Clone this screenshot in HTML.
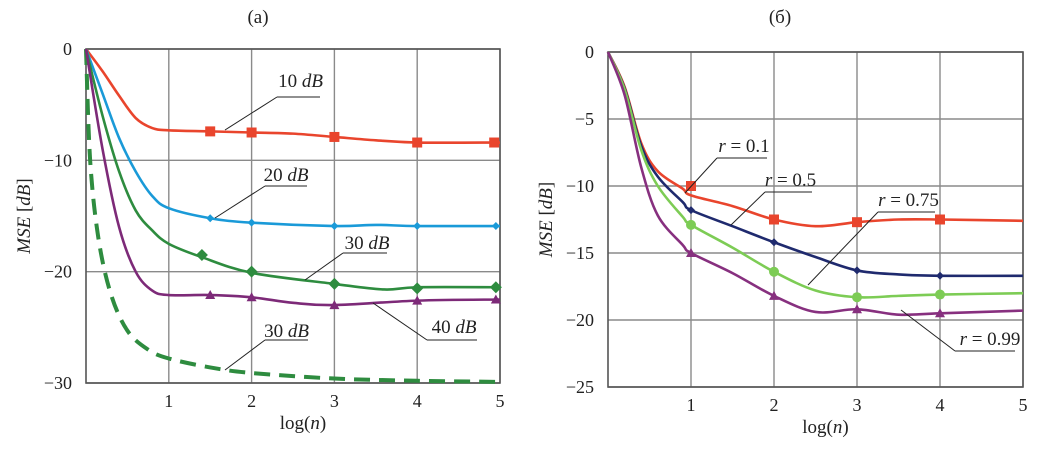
<!DOCTYPE html>
<html><head><meta charset="utf-8"><style>
body{margin:0;background:#fff}
svg text{font-family:"Liberation Serif","DejaVu Serif",serif;fill:#222}
</style></head><body>
<svg id="c" width="1050" height="444" xmlns="http://www.w3.org/2000/svg"></svg>
<script>
// ---- data ----
const xTicks=[1,2,3,4,5];
const yTicksA=[0,-10,-20,-30];
const yTicksB=[0,-5,-10,-15,-20,-25];
const xA10=[0,0.2,0.4,0.6,0.8,1,1.5,2,2.5,3,3.5,4,5];
const yA10=[0,-2,-4.2,-6.2,-7.1,-7.3,-7.4,-7.5,-7.6,-7.9,-8.2,-8.4,-8.4];
const xA20=[0,0.2,0.4,0.6,0.8,1,1.5,2,3,3.5,4,5];
const yA20=[0,-4,-8,-11,-13.2,-14.3,-15.2,-15.6,-15.9,-15.8,-15.9,-15.9];
const xA30=[0,0.2,0.4,0.6,0.8,1,1.4,2,3,3.6,4,5];
const yA30=[0,-6,-11,-14.5,-16.3,-17.5,-18.7,-20.1,-21.1,-21.6,-21.4,-21.4];
const xA40=[0,0.2,0.4,0.6,0.8,1,1.5,2,2.5,3,4,5];
const yA40=[0,-9,-16,-20,-21.7,-22.1,-22.1,-22.3,-22.8,-23.0,-22.6,-22.5];
const xAd=[0,0.05,0.15,0.3,0.5,0.75,1,1.5,2,3,4,5];
const yAd=[0,-10,-17,-22,-25.3,-27,-27.8,-28.6,-29.1,-29.6,-29.8,-29.9];
const mA10x=[1.5,2,3,4,4.93], mA10y=[-7.4,-7.5,-7.9,-8.4,-8.4];
const mA20x=[1.5,2,3,4,4.95], mA20y=[-15.2,-15.6,-15.9,-15.9,-15.9];
const mA30x=[1.4,2,3,4,4.95], mA30y=[-18.5,-20.0,-21.1,-21.5,-21.4];
const mA40x=[1.5,2,3,4,4.95], mA40y=[-22.1,-22.3,-23.0,-22.6,-22.5];
const xB=[0,0.2,0.4,0.6,0.9,1,1.5,2,2.5,3,3.5,4,5];
const yB1=[0,-2.6,-6.8,-8.9,-10.2,-10.7,-11.5,-12.5,-13,-12.7,-12.5,-12.5,-12.6];
const yB5=[0,-2.7,-7.0,-9.3,-11.2,-11.8,-13,-14.2,-15.3,-16.3,-16.6,-16.7,-16.7];
const yB75=[0,-2.8,-7.3,-10,-12.3,-12.9,-14.6,-16.4,-17.8,-18.3,-18.2,-18.1,-18.0];
const yB99=[0,-3.2,-8.6,-12.2,-14.4,-15,-16.5,-18.2,-19.4,-19.2,-19.6,-19.5,-19.3];
const mBx=[1,2,3,4];
const mB1y=[-10,-12.5,-12.7,-12.5], mB5y=[-11.8,-14.2,-16.3,-16.7], mB75y=[-12.9,-16.4,-18.3,-18.1], mB99y=[-15,-18.2,-19.2,-19.5];

const NS="http://www.w3.org/2000/svg", svg=document.getElementById('c');
function el(t,a,p){const e=document.createElementNS(NS,t);for(const k in a)e.setAttribute(k,a[k]);(p||svg).appendChild(e);return e;}
function axes(x0,x1,y0,y1,ymin){return{sx:v=>x0+(x1-x0)*v/5,sy:v=>y0+(y1-y0)*v/ymin};}
function smooth(pts){let d=`M${pts[0][0]},${pts[0][1]}`;for(let i=0;i<pts.length-1;i++){const p0=pts[Math.max(0,i-1)],p1=pts[i],p2=pts[i+1],p3=pts[Math.min(pts.length-1,i+2)];d+=` C${p1[0]+(p2[0]-p0[0])/6},${p1[1]+(p2[1]-p0[1])/6} ${p2[0]-(p3[0]-p1[0])/6},${p2[1]-(p3[1]-p1[1])/6} ${p2[0]},${p2[1]}`;}return d;}
function panel(name,x0,x1,y0,y1,ymin,yt,title){
  const A=axes(x0,x1,y0,y1,ymin);
  const g=el('g',{});
  
  
  xTicks.forEach(t=>{const l=el('line',{x1:A.sx(t),x2:A.sx(t),y1:y0,y2:y1,stroke:'#8a8a8a','stroke-width':1.4},g);
    
    const tx=el('text',{x:A.sx(t),y:y1+24,'text-anchor':'middle','font-size':18},g);tx.textContent=t;
    });
  yt.forEach(t=>{const l=el('line',{x1:x0,x2:x1,y1:A.sy(t),y2:A.sy(t),stroke:'#8a8a8a','stroke-width':1.4},g);
    
    const tx=el('text',{x:x0-14,y:A.sy(t)+6,'text-anchor':'end','font-size':18},g);tx.textContent=t===0?'0':'\u2212'+(-t);
    });
  const r=el('rect',{x:x0,y:y0,width:x1-x0,height:y1-y0,fill:'none',stroke:'#555','stroke-width':1.6},g);
  
  const xt=el('text',{x:(x0+x1)/2+10,y:y1+46,'text-anchor':'middle','font-size':19},g);xt.innerHTML='log(<tspan font-style="italic">n</tspan>)';
  
  const yy=(y0+y1)/2;const ytl=el('text',{x:0,y:0,'text-anchor':'middle','font-size':19,transform:`translate(${x0-56},${yy}) rotate(-90)`},g);
  ytl.innerHTML='<tspan font-style="italic">MSE</tspan> [<tspan font-style="italic">dB</tspan>]';
  
  const tt=el('text',{x:title[1],y:23,'text-anchor':'middle','font-size':19},g);tt.textContent=title[0];
  
  return A;
}
function series(A,name,xs,ys,col,w,dash){const p=el('path',{d:smooth(xs.map((x,i)=>[A.sx(x),A.sy(ys[i])])),fill:'none',stroke:col,'stroke-width':w,'stroke-dasharray':dash||'none'});
  }
function markers(A,name,xs,ys,col,shape,s){xs.forEach((x,i)=>{const cx=A.sx(x),cy=A.sy(ys[i]);let m;
  if(shape==='sq')m=el('rect',{x:cx-s,y:cy-s,width:2*s,height:2*s,fill:col});
  else if(shape==='di')m=el('polygon',{points:`${cx},${cy-s} ${cx+s},${cy} ${cx},${cy+s} ${cx-s},${cy}`,fill:col});
  else if(shape==='ci')m=el('circle',{cx,cy,r:s,fill:col});
  else m=el('polygon',{points:`${cx},${cy-s} ${cx+s},${cy+s*0.8} ${cx-s},${cy+s*0.8}`,fill:col});
  });}
function label(name,html,tx,ty,ux1,ux2,uy,lx,ly){const g=el('g',{});
  const t=el('text',{x:(ux1+ux2)/2+tx,y:ty,'text-anchor':'middle','font-size':19},g);t.innerHTML=html;
  el('line',{x1:ux1,x2:ux2,y1:uy,y2:uy,stroke:'#222','stroke-width':1},g);
  el('line',{x1:ux1,y1:uy,x2:lx,y2:ly,stroke:'#222','stroke-width':1},g);}

const A=panel('panel-a',86,500,49,383,-30,yTicksA,['(a)',258]);
const red='#e9452d',blue='#1a9ad8',green='#2e8c3f',purp='#7d2a78';
series(A,'line-30db-dashed',xAd,yAd,green,4,'16 9');
series(A,'line-10db',xA10,yA10,red,2.6);
series(A,'line-20db',xA20,yA20,blue,2.6);
series(A,'line-30db',xA30,yA30,green,2.6);
series(A,'line-40db',xA40,yA40,purp,2.6);
markers(A,'marker-10db',mA10x,mA10y,red,'sq',5);
markers(A,'marker-20db',mA20x,mA20y,blue,'di',4);
markers(A,'marker-30db',mA30x,mA30y,green,'di',6);
markers(A,'marker-40db',mA40x,mA40y,purp,'tr',5);
const dB=n=>`${n} <tspan font-style="italic">dB</tspan>`;
label('label-10db',dB(10),2,87,277,320,97,225,130);
label('label-20db',dB(20),0,181,265,307,186,215,218);
label('label-30db',dB(30),2,249,343,387,253,305,280);
label('label-40db',dB(40),2,333,427,477,340,373,303);
label('label-30db-dashed',dB(30),0,337,265,308,340,225,370);

const B=panel('panel-b',608,1023,52,387,-25,yTicksB,['(б)',780]);
const navy='#1f2a6e',lg='#7dcc55',pk='#87307f';
series(B,'line-r0.1',xB,yB1,red,2.6);
series(B,'line-r0.5',xB,yB5,navy,2.6);
series(B,'line-r0.75',xB,yB75,lg,2.6);
series(B,'line-r0.99',xB,yB99,pk,2.6);
markers(B,'marker-r0.1',mBx,mB1y,red,'sq',5);
markers(B,'marker-r0.5',mBx,mB5y,navy,'di',4);
markers(B,'marker-r0.75',mBx,mB75y,lg,'ci',5);
markers(B,'marker-r0.99',mBx,mB99y,pk,'tr',5);
const rl=v=>`<tspan font-style="italic">r</tspan> = ${v}`;
label('label-r0.1',rl('0.1'),2,152,717,767,158,685,193);
label('label-r0.5',rl('0.5'),2,186,765,812,192,731,225);
label('label-r0.75',rl('0.75'),2,206,878,935,212,808,285);
label('label-r0.99',rl('0.99'),5,345,955,1015,351,901,310);
</script>
</body></html>
